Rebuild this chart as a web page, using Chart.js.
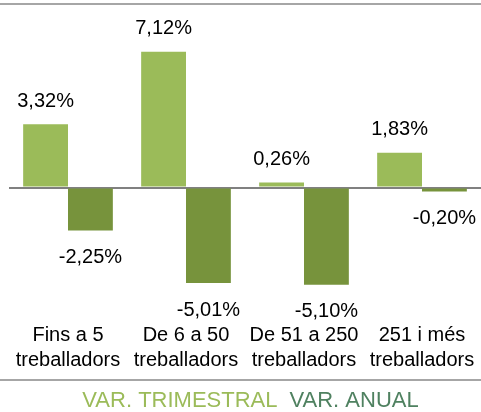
<!DOCTYPE html>
<html>
<head>
<meta charset="utf-8">
<script src="https://cdn.jsdelivr.net/npm/chart.js@4.4.0/dist/chart.umd.min.js"></script>
<style>
  html, body { margin: 0; padding: 0; background: #fff; }
  #wrap { width: 481px; height: 412px; }
</style>
</head>
<body>
<div id="wrap"><canvas id="grafic" width="481" height="412"></canvas></div>
<script>
'use strict'

// categories (two-line labels)
const categories = [
    ['Fins a 5', 'treballadors'],
    ['De 6 a 50', 'treballadors'],
    ['De 51 a 250', 'treballadors'],
    ['251 i més', 'treballadors']
];
// variació trimestral
const varTrimestral = [3.32, 7.12, 0.26, 1.83];
// variació anual
const varAnual = [-2.25, -5.01, -5.10, -0.20];
const seriesNames = ['VAR. TRIMESTRAL', 'VAR. ANUAL'];

const FONT = "'Liberation Sans', Arial, sans-serif";
const colLight = '#9BBB59';
const colDark = '#77933C';
const legendColors = ['#9BBB59', '#4F8160'];

// format 3.32 -> 3,32%
function fmt(v){
    return v.toFixed(2).replace('.', ',') + '%';
}

// etiquetes de dades + linies de marc
const decorPlugin = {
    id: 'decor',
    afterDatasetsDraw(chart){
        const ctx = chart.ctx;
        ctx.save();
        ctx.font = '20px ' + FONT;
        ctx.fillStyle = '#000';
        ctx.textAlign = 'center';
        ctx.textBaseline = 'middle';
        chart.data.datasets.forEach((ds, i) => {
            chart.getDatasetMeta(i).data.forEach((bar, j) => {
                const v = ds.data[j];
                const y = v >= 0 ? bar.y - 23 : bar.y + 27;
                ctx.fillText(fmt(v), bar.x, y);
            });
        });
        // linies grises superior i inferior
        ctx.strokeStyle = '#A6A6A6';
        ctx.lineWidth = 2;
        ctx.beginPath();
        ctx.moveTo(0, 4); ctx.lineTo(chart.width, 4);
        ctx.moveTo(0, 380); ctx.lineTo(chart.width, 380);
        ctx.stroke();
        ctx.restore();
    }
};

new Chart(document.getElementById('grafic'), {
    type: 'bar',
    data: {
        labels: categories,
        datasets: [
            { label: seriesNames[0], data: varTrimestral, backgroundColor: colLight,
              barPercentage: 1.0, categoryPercentage: 0.76 },
            { label: seriesNames[1], data: varAnual, backgroundColor: colDark,
              barPercentage: 1.0, categoryPercentage: 0.76 }
        ]
    },
    options: {
        responsive: false,
        animation: false,
        layout: { padding: { left: 9, right: 0, top: 35, bottom: -10 } },
        plugins: {
            tooltip: { enabled: false },
            legend: {
                position: 'bottom',
                labels: {
                    boxWidth: 0,
                    boxHeight: 0,
                    padding: 1,
                    font: { family: FONT, size: 22 },
                    generateLabels(chart){
                        return chart.data.datasets.map((ds, i) => ({
                            text: ds.label,
                            fontColor: legendColors[i],
                            fillStyle: 'rgba(0,0,0,0)',
                            strokeStyle: 'rgba(0,0,0,0)',
                            lineWidth: 0,
                            datasetIndex: i
                        }));
                    }
                }
            }
        },
        scales: {
            x: {
                grid: { display: false, drawTicks: false },
                border: { display: false },
                ticks: {
                    color: '#000',
                    padding: 21,
                    maxRotation: 0,
                    minRotation: 0,
                    autoSkip: false,
                    font: { family: FONT, size: 20, lineHeight: 1.25 }
                },
                // sense marge lateral extra, i espai fins la llegenda
                afterFit(scale){
                    scale.paddingLeft = 0;
                    scale.paddingRight = 0;
                    scale.height -= 5;
                }
            },
            y: {
                min: -6,
                max: 8,
                ticks: { display: false, stepSize: 1 },
                border: { display: false },
                grid: {
                    drawTicks: false,
                    color: (c) => c.tick && c.tick.value === 0 ? '#808080' : 'rgba(0,0,0,0)',
                    lineWidth: (c) => c.tick && c.tick.value === 0 ? 2 : 0
                }
            }
        }
    },
    plugins: [decorPlugin]
});
</script>
</body>
</html>
